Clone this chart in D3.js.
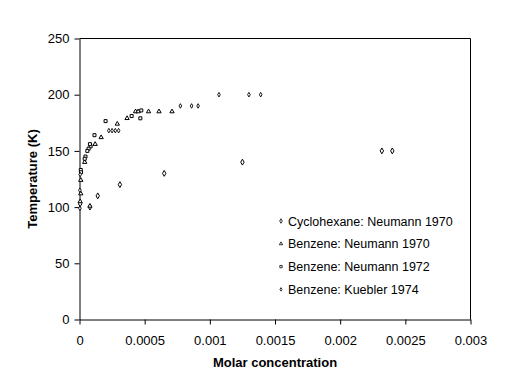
<!DOCTYPE html>
<html><head><meta charset="utf-8">
<script src="https://cdn.jsdelivr.net/npm/d3@7"></script>
<style>body{margin:0;background:#fff}svg{display:block}text{font-family:Arial,"Liberation Sans",sans-serif}</style>
</head><body><div id="c"></div>
<script>
const xTicks = [0, 0.0005, 0.001, 0.0015, 0.002, 0.0025, 0.003];
const xTickLabels = ["0", "0.0005", "0.001", "0.0015", "0.002", "0.0025", "0.003"];
const yTicks = [0, 50, 100, 150, 200, 250];
const yTickLabels = ["0", "50", "100", "150", "200", "250"];
const seriesNames = ["Cyclohexane: Neumann 1970", "Benzene: Neumann 1970", "Benzene: Neumann 1972", "Benzene: Kuebler 1974"];
const cyclohexane1970 = [[0.00008,100],[0.00014,110],[0.00031,120],[0.00065,130],[0.00125,140],[0.00232,150],[0.0024,150],[0.000005,103]];
const benzene1970 = [[0.00004,140],[0.00012,156],[0.000166,162],[0.00029,174],[0.000365,179],[0.00043,185],[0.00045,185],[0.00053,185],[0.00061,185],[0.00071,185],[0.00001,124],[0.00001,112],[0.000005,105],[0.00008,101]];
const benzene1972 = [[0.000474,186],[0.000467,179],[0.0004,181],[0.0002,176.5],[0.000115,164],[0.000085,154],[0.00008,156],[0.00007,152],[0.00006,150],[0.000046,145],[0.00004,143],[0.00001,133],[0.000012,131]];
const kuebler1974 = [[0.000225,168],[0.00025,168],[0.000275,168],[0.0003,168],[0.000774,190],[0.00086,190],[0.00091,190],[0.00107,200],[0.0013,200],[0.00139,200],[0.000003,115],[0.000005,129],[0.000003,99]];

const W = 522, H = 389;
const svg = d3.select("#c").append("svg").attr("width", W).attr("height", H);
const x = d3.scaleLinear().domain([0, 0.003]).range([79.5, 470.5]);
const y = d3.scaleLinear().domain([0, 250]).range([319.5, 38.5]);

svg.append("path").attr("d", `M${x(0)},${y(250)}H${x(0.003)}V${y(0)}`).attr("fill","none").attr("stroke","#000").attr("stroke-width",1);

const xAxis = svg.append("g").attr("transform", `translate(0,${y(0)})`)
  .call(d3.axisBottom(x).tickValues(xTicks).tickFormat((d,i)=>xTickLabels[i]).tickSize(5).tickSizeOuter(0).tickPadding(11));
const yAxis = svg.append("g").attr("transform", `translate(${x(0)},0)`)
  .call(d3.axisLeft(y).tickValues(yTicks).tickFormat((d,i)=>yTickLabels[i]).tickSize(5).tickSizeOuter(0).tickPadding(5));
[xAxis, yAxis].forEach(g => {
  g.selectAll("path,line").attr("stroke","#000");
  g.selectAll("text").attr("font-size", 13).attr("fill","#000").attr("font-family", "Arial, 'Liberation Sans', sans-serif");
});

svg.append("text").attr("x", 275).attr("y", 367).attr("text-anchor","middle")
  .attr("font-size",13).attr("font-weight","bold").text("Molar concentration");
svg.append("text").attr("transform","translate(37,179) rotate(-90)").attr("text-anchor","middle")
  .attr("font-size",13).attr("font-weight","bold").text("Temperature (K)");

const sym = [
  {type: d3.symbolDiamond, size: 10, sw: 1},
  {type: d3.symbolTriangle, size: 8, sw: 1},
  {type: d3.symbolSquare, size: 9, sw: 1},
  {type: d3.symbolDiamond, size: 6, sw: 0.9}
];
const allSeries = [cyclohexane1970, benzene1970, benzene1972, kuebler1974];
allSeries.forEach((data, i) => {
  const s = sym[i];
  svg.append("g").selectAll("path").data(data).join("path")
    .attr("transform", d => `translate(${x(d[0])},${y(d[1])})`)
    .attr("d", d3.symbol().type(s.type).size(s.size))
    .attr("fill", "#fff").attr("stroke","#000").attr("stroke-width", s.sw);
});

const lg = svg.append("g");
seriesNames.forEach((name, i) => {
  const yy = 221 + i * 22.8;
  const s = sym[i];
  lg.append("path").attr("transform", `translate(281,${yy})`)
    .attr("d", d3.symbol().type(s.type).size(s.size*0.6))
    .attr("fill", "#fff").attr("stroke","#000").attr("stroke-width", 0.8);
  lg.append("text").attr("x", 288).attr("y", yy + 4.5).attr("font-size", 12.5).text(name);
});
</script></body></html>
